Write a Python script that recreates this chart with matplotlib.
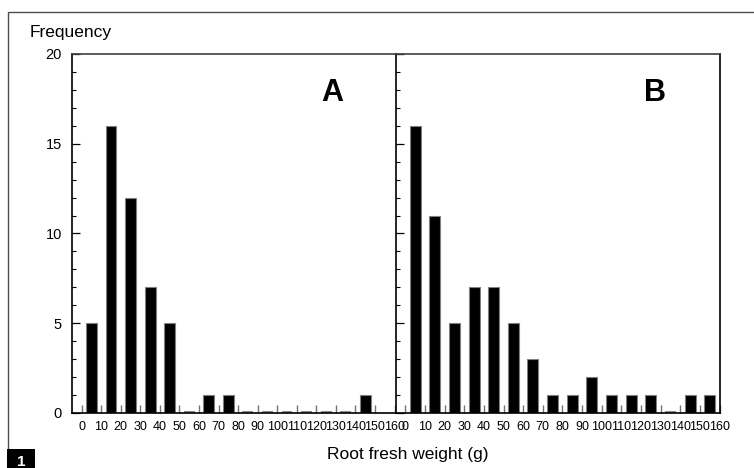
#!/usr/bin/env python3

import numpy as np
import matplotlib.pyplot as plt
from matplotlib.patches import Rectangle
from matplotlib.ticker import MultipleLocator

# histogram counts per 10 g bin
bins_a = [0, 10, 20, 30, 40, 50, 60, 70, 80, 90, 100, 110, 120, 130, 140]
counts_a = [5, 16, 12, 7, 5, 0, 1, 1, 0, 0, 0, 0, 0, 0, 1]
bins_b = [0, 10, 20, 30, 40, 50, 60, 70, 80, 90, 100, 110, 120, 130, 140, 150]
counts_b = [16, 11, 5, 7, 7, 5, 3, 1, 1, 2, 1, 1, 1, 0, 1, 1]
xticks = list(range(0, 161, 10))
panel_letters = ['A', 'B']

W, H = 754, 468


def px_axes(fig, x0, y0, x1, y1):
    return fig.add_axes([x0 / W, 1 - y1 / H, (x1 - x0) / W, (y1 - y0) / H])


def draw_hist(ax, bins, counts):
    x = np.array(bins) + 5
    c = np.array(counts)
    ax.bar(x, c, width=5.6, color='black', edgecolor='0.5', linewidth=0.8)
    # empty bins show as a flat grey stroke on the baseline
    zero = c == 0
    ax.bar(x[zero], np.full(zero.sum(), 0.12), width=5.6, color='0.55',
           linewidth=0)


def style_panel(ax, xlim, show_ylabels):
    ax.set_xlim(*xlim)
    ax.set_ylim(0, 20)
    ax.set_xticks(xticks)
    ax.set_xticklabels([str(t) for t in xticks], fontsize=9)
    ax.yaxis.set_major_locator(MultipleLocator(5))
    ax.yaxis.set_minor_locator(MultipleLocator(1))
    ax.tick_params(axis='x', direction='in', length=5.5, width=1,
                   color='0.45', pad=6)
    ax.tick_params(axis='y', which='major', direction='in', length=5.5,
                   width=0.9, pad=7.5, labelsize=10.5)
    ax.tick_params(axis='y', which='minor', direction='in', length=3,
                   width=0.8)
    if not show_ylabels:
        ax.tick_params(axis='y', which='both', labelleft=False)
    for s in ax.spines.values():
        s.set_linewidth(1.2)
    ax.spines['top'].set_color('0.25')


def main():
    plt.rcParams['font.family'] = ['Liberation Sans', 'DejaVu Sans']
    fig = plt.figure(figsize=(W / 100, H / 100), dpi=100)

    # outer frame, runs off the right and bottom edges
    fig.patches.append(Rectangle((8 / W, -0.1), 1.1, 1.1 - 12 / H,
                                 transform=fig.transFigure, fill=False,
                                 edgecolor='0.3', linewidth=1))

    ax_a = px_axes(fig, 72.3, 54, 395.7, 413)
    ax_b = px_axes(fig, 395.7, 54, 719.5, 413)

    draw_hist(ax_a, bins_a, counts_a)
    draw_hist(ax_b, bins_b, counts_b)

    style_panel(ax_a, (-4.8, 160.6), True)
    style_panel(ax_b, (-4.9, 159.8), False)
    ax_a.spines['right'].set_visible(False)
    ax_a.tick_params(axis='y', which='both', right=False)

    fig.text(332 / W, 1 - 93 / H, panel_letters[0], fontsize=22,
             fontweight='bold', ha='center', va='center')
    fig.text(655 / W, 1 - 93 / H, panel_letters[1], fontsize=22,
             fontweight='bold', ha='center', va='center')

    fig.text(30 / W, 1 - 32 / H, 'Frequency', fontsize=12.5,
             ha='left', va='center')
    fig.text(408 / W, 1 - 455 / H, 'Root fresh weight (g)', fontsize=12.5,
             ha='center', va='center')

    # numbered tag bottom left
    fig.patches.append(Rectangle((7 / W, 0), 28 / W, 19 / H,
                                 transform=fig.transFigure,
                                 facecolor='black', edgecolor='none'))
    fig.text(21 / W, 1 - 462 / H, '1', color='white', fontsize=11,
             fontweight='bold', ha='center', va='center')

    fig.savefig('out.png', dpi=100)


if __name__ == '__main__':
    main()
